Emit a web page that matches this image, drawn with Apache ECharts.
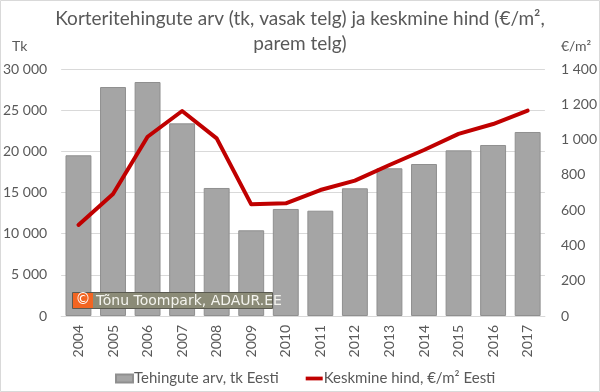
<!DOCTYPE html>
<html><head><meta charset="utf-8">
<script src="https://cdn.jsdelivr.net/npm/echarts@6/dist/echarts.min.js"></script>
<style>html,body{margin:0;padding:0;background:#fff}#c{width:600px;height:392px}</style>
</head><body><div id="c"></div>
<script>
const years = ['2004','2005','2006','2007','2008','2009','2010','2011','2012','2013','2014','2015','2016','2017'];
const deals = [19520, 27810, 28420, 23400, 15550, 10410, 13000, 12790, 15510, 17940, 18460, 20120, 20770, 22350];
const price = [516, 692, 1016, 1162, 1007, 633, 639, 714, 767, 856, 941, 1032, 1088, 1164];
const dealsName = 'Tehingute arv, tk Eesti';
const priceName = 'Keskmine hind, €/m² Eesti';
const titleText = 'Korteritehingute arv (tk, vasak telg) ja keskmine hind (€/m²,\nparem telg)';
const leftUnit = 'Tk';
const rightUnit = '€/m²';
const credit = 'Tõnu Toompark, ADAUR.EE';

const FONT = 'Lato, "Open Sans", sans-serif';
const GREY = '#595959';
const fmt = v => String(v).replace(/\B(?=(\d{3})+(?!\d))/g, ' ');

const chart = echarts.init(document.getElementById('c'));
chart.setOption({
  animation: false,
  backgroundColor: '#fff',
  title: {
    text: titleText, left: 'center', top: 1,
    textStyle: { fontFamily: FONT, fontSize: 19, fontWeight: 'normal', color: GREY, lineHeight: 25 }
  },
  grid: { left: 61, right: 54, top: 69, bottom: 76, containLabel: false },
  legend: {
    left: 110, top: 366, itemGap: 27, itemWidth: 17, itemHeight: 8,
    textStyle: { fontFamily: FONT, fontSize: 15, color: GREY, padding: [0, 0, 0, -4] },
    data: [
      { name: dealsName, icon: 'rect' },
      { name: priceName, icon: 'path://M0,3H18V7H0Z' }
    ]
  },
  xAxis: {
    type: 'category', data: years,
    axisLine: { lineStyle: { color: '#d9d9d9' } },
    axisTick: { show: false },
    axisLabel: { rotate: 90, fontFamily: FONT, fontSize: 14, color: GREY, margin: 9 }
  },
  yAxis: [
    {
      type: 'value', min: 0, max: 30000, interval: 5000,
      axisLine: { show: false }, axisTick: { show: false },
      splitLine: { lineStyle: { color: '#d9d9d9' } },
      axisLabel: { fontFamily: FONT, fontSize: 14, color: GREY, margin: 14, formatter: fmt }
    },
    {
      type: 'value', min: 0, max: 1400, interval: 200,
      axisLine: { show: false }, axisTick: { show: false },
      splitLine: { show: false },
      axisLabel: { fontFamily: FONT, fontSize: 14, color: GREY, margin: 16, formatter: fmt }
    }
  ],
  series: [
    {
      name: dealsName, type: 'bar', data: deals, yAxisIndex: 0,
      barCategoryGap: '25%',
      itemStyle: { color: '#a5a5a5', borderColor: '#8f8f8f', borderWidth: 1 }
    },
    {
      name: priceName, type: 'line', data: price, yAxisIndex: 1,
      smooth: false, symbol: 'none',
      lineStyle: { color: '#c00000', width: 4, join: 'round', cap: 'round' },
      itemStyle: { color: '#c00000' }
    }
  ],
  graphic: [
    { type: 'rect', zlevel: 1, z: 10, shape: { x: 0.5, y: 0.5, width: 599, height: 391 }, style: { fill: 'none', stroke: '#d9d9d9', lineWidth: 1 }, silent: true },
    { type: 'text', zlevel: 1, z: 10, x: 12, y: 39, style: { text: leftUnit, fill: GREY, font: '14px Lato' } },
    { type: 'text', zlevel: 1, z: 10, x: 561, y: 39, style: { text: rightUnit, fill: GREY, font: '14px Lato' } },
    { type: 'rect', zlevel: 1, z: 10, shape: { x: 72.5, y: 292.5, width: 200, height: 16 }, style: { fill: '#8b8b77', stroke: '#5a5a50', lineWidth: 1 } },
    { type: 'rect', zlevel: 1, z: 11, shape: { x: 73, y: 293, width: 20, height: 15 }, style: { fill: '#f26522' } },
    { type: 'text', zlevel: 1, z: 12, x: 83, y: 300.5, style: { text: '©', fill: '#fff', font: '15px "DejaVu Sans"', align: 'center', verticalAlign: 'middle' } },
    { type: 'text', zlevel: 1, z: 12, x: 96, y: 301, style: { text: credit, fill: '#f4f4ee', font: '14px "DejaVu Sans"', align: 'left', verticalAlign: 'middle' } }
  ]
});
</script></body></html>
